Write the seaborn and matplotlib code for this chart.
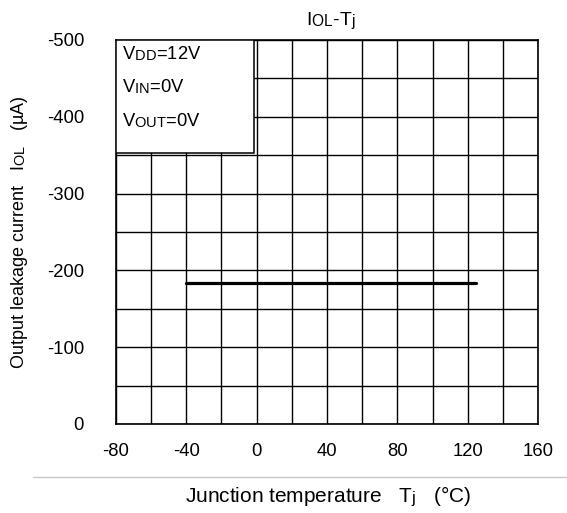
import matplotlib
matplotlib.use("Agg")
import matplotlib.pyplot as plt
import seaborn as sns
import pandas as pd
from matplotlib.patches import Rectangle
from matplotlib.lines import Line2D

try:
    import matplotlib._mathtext as _mt
    _mt.SHRINK_FACTOR = 0.8
    _mt.FontConstantsBase.sub1 = 0.15
except Exception:
    pass

temperature = [-40, 125]
leakage_current = [-183, -183]
x_ticks = [-80, -40, 0, 40, 80, 120, 160]
y_ticks = [0, -100, -200, -300, -400, -500]
conditions = [r"V$_{\mathrm{DD}}$=12V", r"V$_{\mathrm{IN}}$=0V", r"V$_{\mathrm{OUT}}$=0V"]

sns.set_style("white")
plt.rcParams["font.family"] = ["Liberation Sans", "DejaVu Sans"]
plt.rcParams["mathtext.fontset"] = "custom"
plt.rcParams["mathtext.rm"] = "Liberation Sans"
plt.rcParams["mathtext.it"] = "Liberation Sans:italic"
plt.rcParams["mathtext.bf"] = "Liberation Sans:bold"
plt.rcParams["text.color"] = "black"

fig = plt.figure(figsize=(5.67, 5.13), dpi=100)
ax = fig.add_axes([116/567, 1-424/513, (538-116)/567, (424-40)/513])

df = pd.DataFrame({"T": temperature, "I": leakage_current})
sns.lineplot(data=df, x="T", y="I", ax=ax, color="black", lw=2.3, zorder=5)

ax.set_xlim(-80, 160)
ax.set_ylim(0, -500)
ax.set_xticks(x_ticks)
ax.set_xticks(list(range(-80, 161, 20)), minor=True)
ax.set_yticks(y_ticks)
ax.set_yticks(list(range(0, -501, -50)), minor=True)
ax.set_xticklabels([str(v) for v in x_ticks])
ax.set_yticklabels([str(v) for v in y_ticks])
ax.grid(True, which="both", color="black", lw=1.0)
ax.set_axisbelow(True)
ax.tick_params(axis="both", which="both", length=0, labelsize=13.3, colors="black")
ax.tick_params(axis="y", pad=23)
ax.tick_params(axis="x", pad=13.5)
for s in ax.spines.values():
    s.set_color("black")
    s.set_linewidth(1.2)

ax.set_xlabel("")
ax.set_ylabel("")

# conditions box
ax.add_patch(Rectangle((-80, -500), 78.5, 147, facecolor="white", edgecolor="black", lw=1.1, zorder=4))
for txt, yv in zip(conditions, [-474, -431, -388]):
    ax.text(-76.5, yv, txt, fontsize=13.2, va="baseline", ha="left", zorder=6)

fig.text(331/567, 1-25/513, r"I$_{\mathrm{OL}}$-T$_{\mathrm{j}}$", fontsize=14, ha="center", va="baseline")
fig.text(20/567, 1-232/513, r"Output leakage current   I$_{\mathrm{OL}}$   (µA)", fontsize=13,
         rotation=90, ha="center", va="center")
fig.text(328/567, 1-502/513, r"Junction temperature   T$_{\mathrm{j}}$   (°C)", fontsize=15,
         ha="center", va="baseline")
fig.add_artist(Line2D([33/567, 1.0], [1-477/513, 1-477/513], color="#c8c8c8", lw=1.0, transform=fig.transFigure))

fig.savefig("out.png", dpi=100)
